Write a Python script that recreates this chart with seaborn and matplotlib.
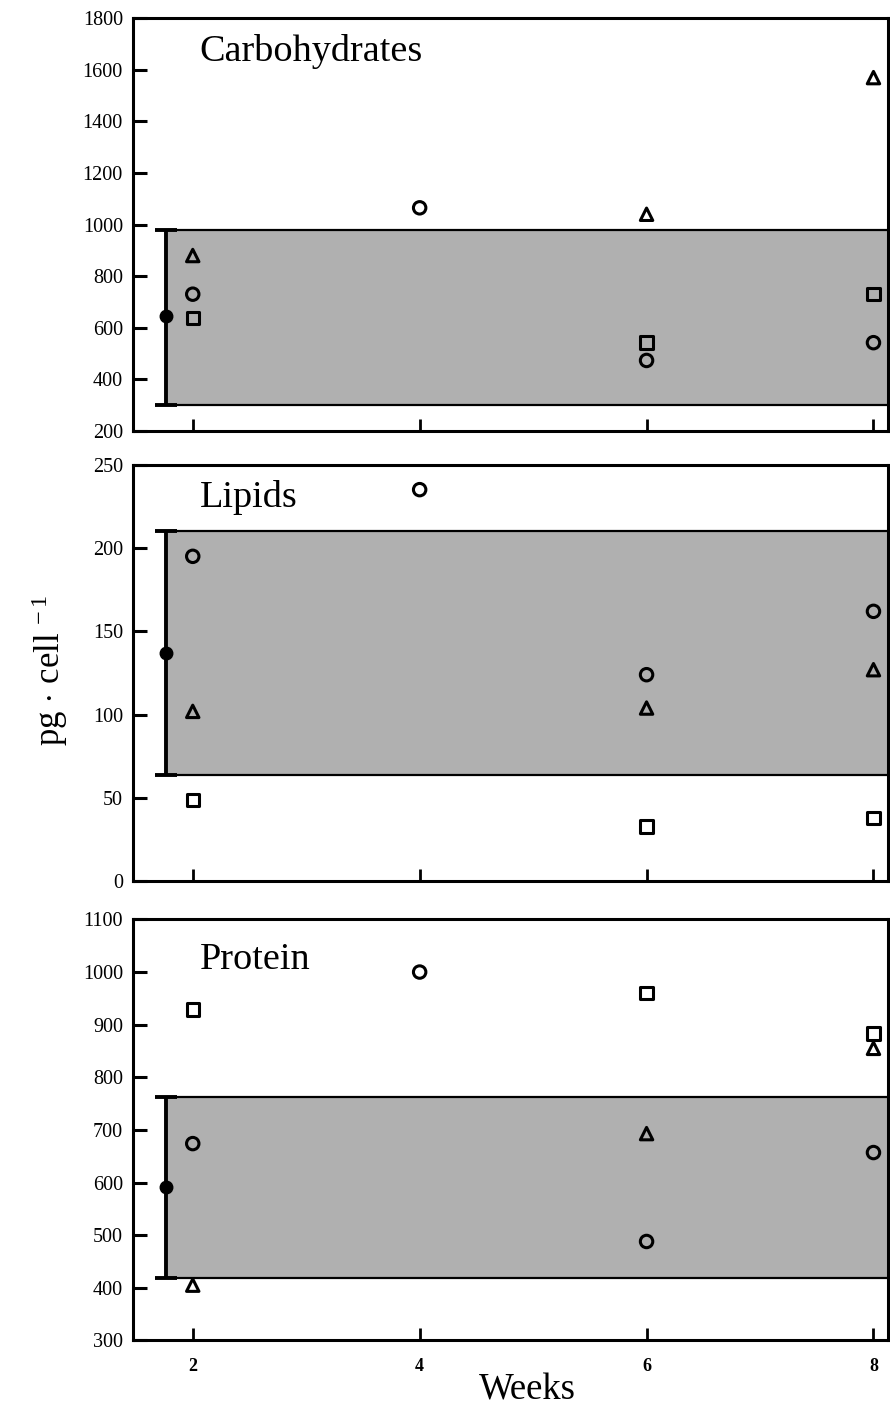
import numpy as np
import pandas as pd
import matplotlib
matplotlib.use("Agg")
import matplotlib.pyplot as plt
import seaborn as sns

# Sampling weeks
weeks = [2, 4, 6, 8]

# Carbohydrates (pg per cell) for three replicate series
carb_circle = [730, 1065, 473, 542]
carb_square = [638, np.nan, 542, 731]
carb_triangle = [880, np.nan, 1040, 1570]
carb_ref = [645, 300, 980]          # mean, low, high of reference range

# Lipids
lipid_circle = [195, 235, 124, 162]
lipid_square = [49, np.nan, 33, 38]
lipid_triangle = [102, np.nan, 104, 127]
lipid_ref = [137, 64, 210]

# Protein
protein_circle = [674, 1000, 488, 657]
protein_square = [929, np.nan, 960, 883]
protein_triangle = [405, np.nan, 693, 855]
protein_ref = [591, 418, 762]

panel_titles = ["Carbohydrates", "Lipids", "Protein"]
y_limits = [(200, 1800), (0, 250), (300, 1100)]
y_steps = [200, 50, 100]
x_tick_labels = ["2", "4", "6", "8"]

sns.set_style("ticks")
plt.rcParams["font.family"] = ["Liberation Serif", "DejaVu Serif"]
plt.rcParams["mathtext.fontset"] = "custom"
plt.rcParams["mathtext.rm"] = "Liberation Serif"
plt.rcParams["mathtext.it"] = "Liberation Serif:italic"
for key in ["text.color", "axes.labelcolor", "xtick.color", "ytick.color",
            "axes.edgecolor"]:
    plt.rcParams[key] = "black"

panels = [
    (carb_circle, carb_square, carb_triangle, carb_ref),
    (lipid_circle, lipid_square, lipid_triangle, lipid_ref),
    (protein_circle, protein_square, protein_triangle, protein_ref),
]

fig = plt.figure(figsize=(8.9, 14.08), dpi=100)
boxes = [
    [0.149, 0.694, 0.849, 0.293],
    [0.149, 0.374, 0.849, 0.296],
    [0.149, 0.048, 0.849, 0.299],
]

markers = {"circle": "o", "square": "s", "triangle": "^"}
XMIN, XMAX = 1.47, 8.13
BAND_LEFT = 1.78
REF_X = 1.76

for i, ((circ, sq, tri, ref), title, ylim, step, box) in enumerate(
        zip(panels, panel_titles, y_limits, y_steps, boxes)):
    ax = fig.add_axes(box)
    df = pd.DataFrame({
        "week": weeks * 3,
        "value": list(circ) + list(sq) + list(tri),
        "series": ["circle"] * 4 + ["square"] * 4 + ["triangle"] * 4,
    }).dropna()

    mean, lo, hi = ref
    # reference range band
    ax.fill_between([BAND_LEFT, XMAX], lo, hi, color="#b0b0b0", lw=0, zorder=1)
    ax.hlines([lo, hi], BAND_LEFT, XMAX, color="black", lw=1.6, zorder=2)
    ax.errorbar([REF_X], [mean], yerr=[[mean - lo], [hi - mean]], fmt="o",
                color="black", ms=9, elinewidth=2.8, capsize=8, capthick=2.8,
                zorder=3)

    sns.scatterplot(data=df, x="week", y="value", style="series",
                    markers=markers, ax=ax, s=80, facecolor="none",
                    edgecolor="black", linewidth=2.2, legend=False, zorder=4)

    ax.set_xlim(XMIN, XMAX)
    ax.set_ylim(*ylim)
    ax.set_yticks(np.arange(ylim[0], ylim[1] + 1, step))
    ax.set_xticks(weeks)
    ax.tick_params(axis="y", direction="in", length=10, width=2.2,
                   labelsize=14.5, pad=7)
    ax.tick_params(axis="x", direction="in", length=9, width=2.0,
                   labelsize=13, pad=13)
    if i < 2:
        ax.set_xticklabels([])
    else:
        ax.set_xticklabels(x_tick_labels, fontweight="bold")
    ax.set_xlabel("")
    ax.set_ylabel("")
    for sp in ax.spines.values():
        sp.set_linewidth(2.2)
        sp.set_color("black")
    ax.text(0.089, 0.92 if i < 2 else 0.905, title, transform=ax.transAxes,
            fontsize=27.5, va="center", ha="left")

fig.text(50 / 890, 1 - 670 / 1408, r"pg$\,\cdot\,$cell$^{\;-1}$",
         rotation=90, fontsize=25, ha="center", va="center")
fig.text(527 / 890, 1 - 1390 / 1408, "Weeks", fontsize=26.5,
         ha="center", va="center")

fig.savefig("out.png", dpi=100, facecolor="white")
